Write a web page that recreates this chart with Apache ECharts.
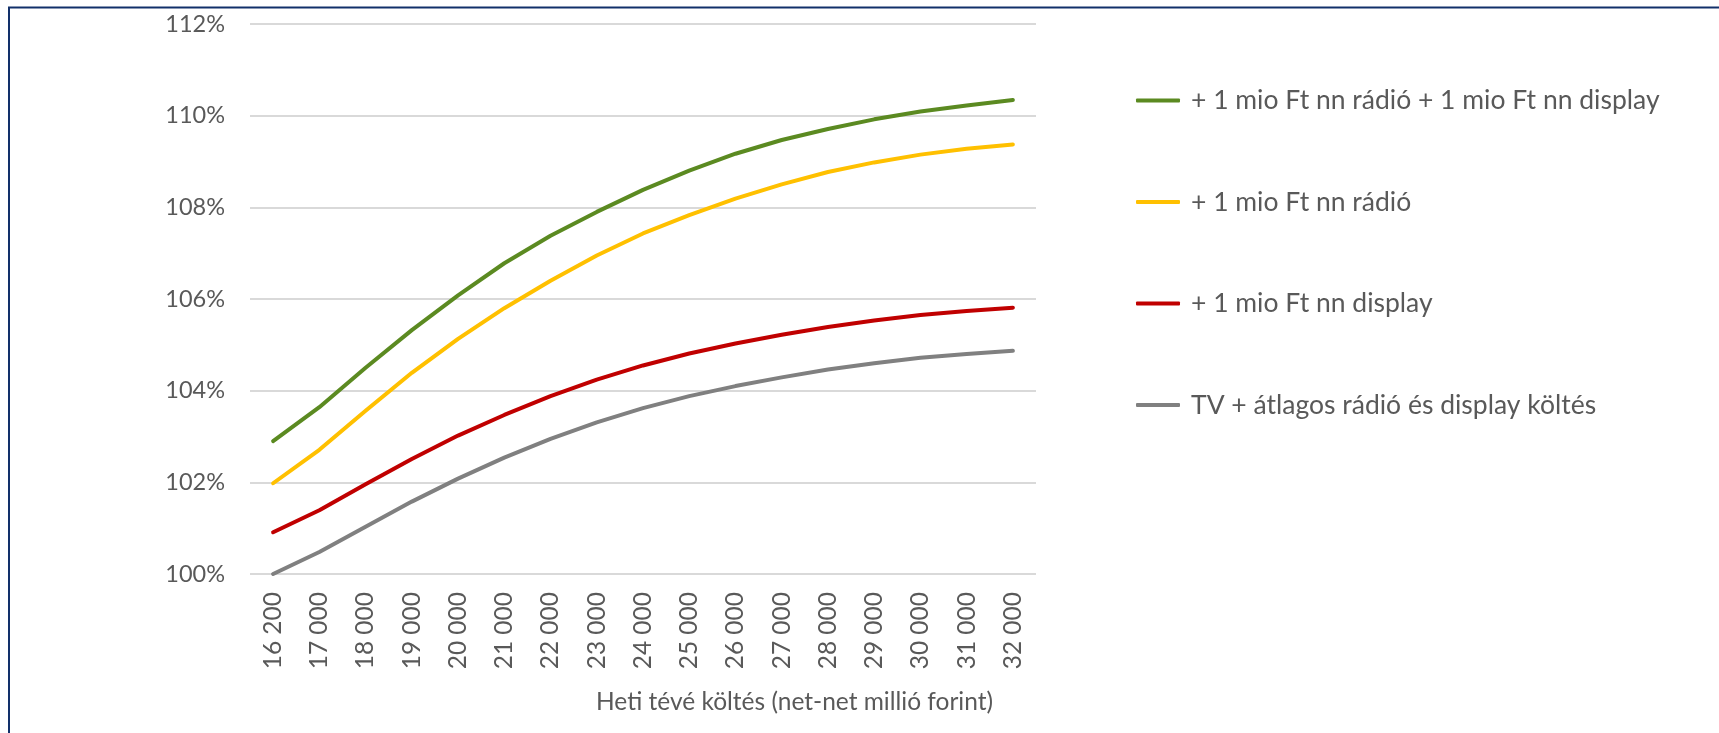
<!DOCTYPE html>
<html>
<head>
<meta charset="utf-8">
<title>Heti tévé költés</title>
<script src="https://cdn.jsdelivr.net/npm/echarts@6/dist/echarts.min.js"></script>
<style>
  html, body { margin: 0; padding: 0; background: #fff; }
  #chart { width: 1719px; height: 733px; }
</style>
</head>
<body>
<div id="chart"></div>
<script>
// x tengely: heti tévé költés (net-net millió forint)
const categories = ['16 200', '17 000', '18 000', '19 000', '20 000', '21 000', '22 000', '23 000',
  '24 000', '25 000', '26 000', '27 000', '28 000', '29 000', '30 000', '31 000', '32 000']

// y tengely beosztás (%)
const yTicks = [100, 102, 104, 106, 108, 110, 112]

// sorozatok nevei
const seriesNames = [
  '+ 1 mio Ft nn rádió + 1 mio Ft nn display',
  '+ 1 mio Ft nn rádió',
  '+ 1 mio Ft nn display',
  'TV + átlagos rádió és display költés'
]

// értékek százalékban
const radioDisplay = [102.90, 103.64, 104.50, 105.32, 106.08, 106.78, 107.38, 107.90, 108.38,
  108.80, 109.17, 109.47, 109.71, 109.92, 110.09, 110.22, 110.34]
const radio = [101.98, 102.71, 103.56, 104.39, 105.13, 105.80, 106.40, 106.95, 107.43,
  107.83, 108.19, 108.50, 108.77, 108.98, 109.15, 109.28, 109.37]
const display = [100.91, 101.39, 101.96, 102.51, 103.02, 103.47, 103.88, 104.24, 104.55,
  104.81, 105.03, 105.22, 105.39, 105.53, 105.65, 105.74, 105.81]
const base = [100.00, 100.48, 101.03, 101.58, 102.08, 102.54, 102.95, 103.31, 103.62,
  103.88, 104.10, 104.29, 104.46, 104.60, 104.72, 104.80, 104.87]

const colors = ['#5B8A21', '#FFC000', '#C00000', '#808080']
const values = [radioDisplay, radio, display, base]

const font = 'Lato, "Open Sans", sans-serif'
const textColor = '#595959'

const chart = echarts.init(document.getElementById('chart'))

const option = {
  animation: false,
  backgroundColor: '#fff',
  textStyle: { fontFamily: font },
  // keret (bal és felső vonal)
  graphic: [{
    type: 'polyline',
    silent: true,
    shape: { points: [[9, 733], [9, 7.5], [1719, 7.5]] },
    style: { stroke: '#12306A', lineWidth: 2, fill: null }
  }],
  title: {
    text: 'Heti tévé költés (net-net millió forint)',
    left: 596,
    top: 690,
    padding: 0,
    textStyle: {
      fontFamily: font,
      fontSize: 24.5,
      fontWeight: 'normal',
      color: textColor,
      lineHeight: 24
    }
  },
  legend: {
    orient: 'vertical',
    left: 1131,
    top: 82,
    itemGap: 74.5,
    itemWidth: 44,
    itemHeight: 4,
    icon: 'roundRect',
    data: seriesNames,
    textStyle: {
      fontFamily: font,
      fontSize: 26.5,
      color: textColor,
      lineHeight: 24,
      padding: [0, 0, 0, 6]
    }
  },
  grid: {
    left: 250,
    top: 24,
    width: 786,
    height: 550
  },
  xAxis: {
    type: 'category',
    data: categories,
    boundaryGap: true,
    axisLine: { show: false },
    axisTick: { show: false },
    axisLabel: {
      rotate: 90,
      margin: 18,
      interval: 0,
      fontFamily: font,
      fontSize: 24.5,
      color: textColor
    }
  },
  yAxis: {
    type: 'value',
    min: yTicks[0],
    max: yTicks[yTicks.length - 1],
    interval: yTicks[1] - yTicks[0],
    axisLine: { show: false },
    axisTick: { show: false },
    axisLabel: {
      margin: 25,
      fontFamily: font,
      fontSize: 23.5,
      color: textColor,
      formatter: v => v + '%'
    },
    splitLine: { lineStyle: { color: '#D9D9D9', width: 2 } }
  },
  series: seriesNames.map((name, i) => ({
    name: name,
    type: 'line',
    data: values[i],
    symbol: 'none',
    smooth: false,
    color: colors[i],
    lineStyle: { width: 4, cap: 'round', join: 'round', color: colors[i] },
    z: 10 - i
  }))
}

chart.setOption(option)
</script>
</body>
</html>
